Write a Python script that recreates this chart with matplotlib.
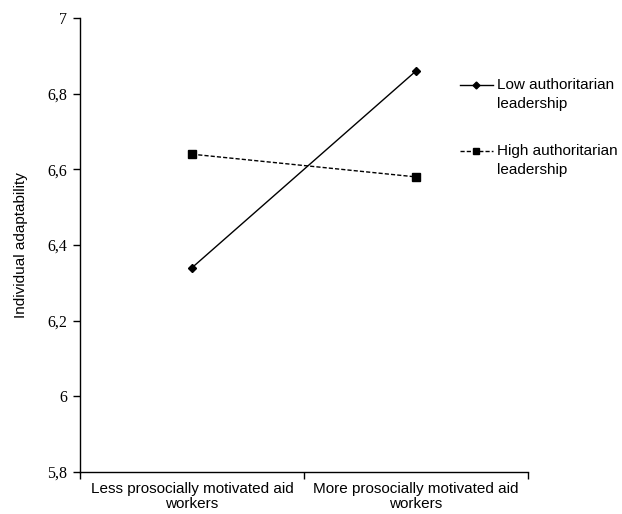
import matplotlib
matplotlib.use("Agg")
import matplotlib.pyplot as plt
from matplotlib.lines import Line2D
import numpy as np

# data
categories = ["Less prosocially motivated aid\nworkers",
              "More prosocially motivated aid\nworkers"]
low_auth = [6.34, 6.86]
high_auth = [6.64, 6.58]
series_names = ["Low authoritarian\nleadership", "High authoritarian\nleadership"]
yticks = [5.8, 6.0, 6.2, 6.4, 6.6, 6.8, 7.0]
ytick_labels = ["5,8", "6", "6,2", "6,4", "6,6", "6,8", "7"]

SANS = "Liberation Sans"
SERIF = "Liberation Serif"
W, H = 622, 514

fig = plt.figure(figsize=(W / 100, H / 100), dpi=100)
ax = fig.add_axes([80 / W, 1 - 472 / H, 448 / W, 454 / H])

x = np.arange(len(categories)) + 0.5
styles = [dict(ls="-", marker="D", ms=4), dict(ls=(0, (3, 1.5)), marker="s", ms=6)]
for vals, st in zip([low_auth, high_auth], styles):
    ax.plot(x, vals, color="black", lw=1.0, ls=st["ls"], marker=st["marker"],
            markersize=st["ms"])

ax.set_xlim(0, len(categories))
ax.set_ylim(5.8, 7.0)
# boundary ticks on major, category names on minor
ax.set_xticks([0, 1, 2])
ax.set_xticklabels([])
ax.set_xticks(x, minor=True)
ax.set_xticklabels(categories, minor=True, fontsize=11, family=SANS, linespacing=1.15)
ax.tick_params(axis="x", which="minor", length=0, pad=7)
ax.tick_params(axis="x", which="major", direction="out", length=5, width=1)
ax.set_yticks(yticks)
ax.set_yticklabels(ytick_labels, fontsize=11.5, family=SERIF)
ax.tick_params(axis="y", direction="out", length=5, width=1, pad=4)

ax.set_ylabel("Individual adaptability", fontsize=11, family=SANS, labelpad=14)

for s in ["top", "right"]:
    ax.spines[s].set_visible(False)
for s in ["left", "bottom"]:
    ax.spines[s].set_linewidth(1.0)

# legend drawn by hand: handle sits on the first text line, as in the original
leg_y = [85, 151]
leg_ms = [3.5, 4.5]
for name, st, yy, ms in zip(series_names, styles, leg_y, leg_ms):
    yf = 1 - yy / H
    fig.add_artist(Line2D([460 / W, 493 / W], [yf, yf], color="black", lw=1.0,
                          ls=st["ls"]))
    fig.add_artist(Line2D([476.5 / W], [yf], color="black", marker=st["marker"],
                          markersize=ms, ls="none"))
    first, second = name.split("\n")
    fig.text(497 / W, yf, first, fontsize=11, family=SANS, va="center", ha="left")
    fig.text(497 / W, 1 - (yy + 19) / H, second, fontsize=11, family=SANS,
             va="center", ha="left")

fig.savefig("out.png", dpi=100)
